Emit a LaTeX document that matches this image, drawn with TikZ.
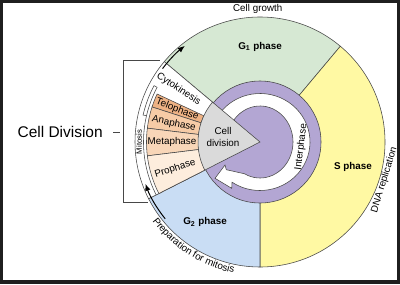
\documentclass[tikz,border=0pt]{standalone}
\usepackage{fontspec}
\setmainfont{Liberation Sans}
\usepackage{xcolor}
\usetikzlibrary{arrows.meta,positioning,calc,decorations.text}

\definecolor{gonefill}{RGB}{214,232,211}
\definecolor{sfill}{RGB}{255,249,163}
\definecolor{gtwofill}{RGB}{201,221,244}
\definecolor{purpfill}{RGB}{179,166,211}
\definecolor{divfill}{RGB}{218,218,218}
\definecolor{telofill}{RGB}{238,178,132}
\definecolor{anafill}{RGB}{246,203,166}
\definecolor{metafill}{RGB}{248,214,184}
\definecolor{profill}{RGB}{253,237,221}

\begin{document}
\begin{tikzpicture}[>=Latex, x=0.025cm, y=0.025cm,
  edge/.style={draw=black!72, line width=0.4pt},
  small/.style={font=\fontsize{7}{8}\selectfont, inner sep=0pt},
  phase/.style={font=\fontsize{7}{8}\selectfont\bfseries, inner sep=0pt},
  curved/.style={decorate, decoration={text along path, text align=center, text={#1}}}]
\useasboundingbox (0,0) rectangle (400,284);
% frame
\fill[black!88] (0,0) rectangle (400,284);
\fill[white] (3,4) rectangle (397,281);

\begin{scope}[shift={(260,142)}]
  % sectors of the cycle
  \filldraw[edge,fill=gonefill] (0,0) -- (50:125) arc[start angle=50,end angle=140,radius=125] -- cycle;
  \filldraw[edge,fill=sfill] (0,0) -- (-90:125) arc[start angle=-90,end angle=50,radius=125] -- cycle;
  \filldraw[edge,fill=gtwofill] (0,0) -- (207:125) arc[start angle=207,end angle=270,radius=125] -- cycle;
  \filldraw[edge,fill=white] (0,0) -- (140:125) arc[start angle=140,end angle=207,radius=125] -- cycle;
  % mitosis steps
  \foreach \a/\b/\col in {155/162/telofill,162/173/anafill,173/187/metafill,187/207/profill}
    \filldraw[edge,fill=\col] (\a:62) -- (\a:113.5) arc[start angle=\a,end angle=\b,radius=113.5] -- (\b:62) -- cycle;
  % mitosis bracket
  \draw[edge] (152:116.5) arc[start angle=152,end angle=207,radius=116.5];
  \draw[edge] (152:116.5) -- (152:120) arc[start angle=152,end angle=167,radius=120] -- (167:116.5);
  % interphase disc and its arrow
  \filldraw[edge,fill=purpfill] (0,0) circle[radius=61];
  \filldraw[edge,fill=white] ({50*cos(145)},{48.5*sin(145)})
    arc[start angle=145,end angle=-124,x radius=50,y radius=48.5]
    -- (-28.3,-46.3) -- (-45,-36.3) -- (-35,-23) -- (-33.7,-27.7) -- ({33*cos(-118)},{36*sin(-118)})
    arc[start angle=-118,end angle=145,x radius=33,y radius=36] -- cycle;
  % cell division wedge
  \filldraw[edge,fill=divfill] (0,0) -- (140:62) arc[start angle=140,end angle=207,radius=62] -- cycle;

  % labels
  \node[phase] (gone) at (0,95) {G\textsubscript{1} phase};
  \node[phase] (sph) at (93,-25) {S phase};
  \node[phase] (gtwo) at (-55,-80) {G\textsubscript{2} phase};
  \node[small,align=center] (celldiv) at (-37,5) {Cell\\division};
  \node[small,rotate=-33] (cyto) at (147:97) {Cytokinesis};
  \node[small,rotate=-21.5] (telo) at (158.5:89) {Telophase};
  \node[small,rotate=-12] (ana) at (168:88) {Anaphase};
  \node[small] (meta) at (180:88) {Metaphase};
  \node[small,rotate=17.5] (pro) at (197.5:89) {Prophase};
  \node[font=\fontsize{5.5}{6}\selectfont,inner sep=0pt,rotate=90] (mito) at (180:121) {Mitosis};
  \node[small,rotate=83] (inter) at (-7:41.5) {Interphase};
  \node[small,rotate=73] (dna) at (-17:130) {DNA replication};
  \node[small,rotate=1] (growth) at (91:133) {Cell growth};
  \path[curved={|\fontsize{7}{8}\selectfont|Preparation for mitosis}] (200:133.5) arc[start angle=200,end angle=275,radius=133.5];

  % arrows into and out of mitosis
  \coordinate (gtop) at (143:122);
  \draw[-{Latex[length=5pt,width=4pt]}, line width=0.7pt] (gtop) arc[start angle=143,end angle=128,radius=122];
  \coordinate (gbot) at (219:122);
  \draw[-{Latex[length=5pt,width=4pt]}, line width=0.7pt] (gbot) arc[start angle=219,end angle=200,radius=122];
\end{scope}

% side label and bracket
\node[font=\fontsize{11}{13}\selectfont,inner sep=0pt,anchor=east] (celldivision) at (103,152) {Cell Division};
\coordinate (brtop) at (160,224);
\coordinate (brbot) at (148,82);
\coordinate (brmid) at (120,152);
\draw[edge,line width=0.6pt] (brtop) -- (123,224) -- (123,82) -- (brbot);
\draw[edge,line width=0.6pt,shorten <=0.25cm] (celldivision.east) -- (brmid);
\end{tikzpicture}
\end{document}
